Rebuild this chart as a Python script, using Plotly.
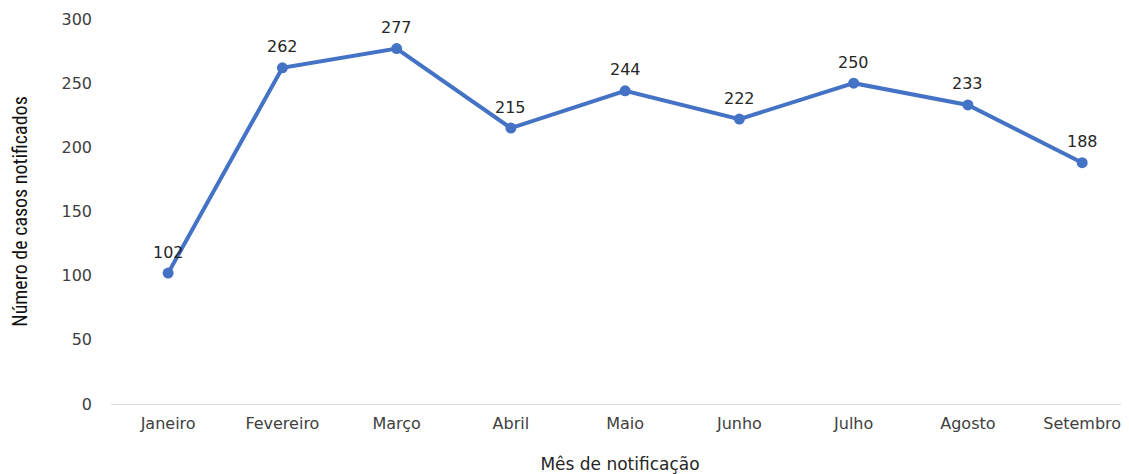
import plotly.graph_objects as go

months = ["Janeiro", "Fevereiro", "Março", "Abril", "Maio", "Junho", "Julho", "Agosto", "Setembro"]
cases = [102, 262, 277, 215, 244, 222, 250, 233, 188]
y_ticks = [0, 50, 100, 150, 200, 250, 300]

FONT = "DejaVu Sans, sans-serif"

fig = go.Figure()
fig.add_trace(go.Scatter(
    x=months, y=cases, mode="lines+markers",
    line=dict(color="#4472C4", width=4),
    marker=dict(color="#4472C4", size=11),
    cliponaxis=False, showlegend=False,
))
for m, v in zip(months, cases):
    fig.add_annotation(x=m, y=v, text=str(v), showarrow=False, yshift=21,
                       font=dict(family=FONT, size=16, color="#262626"))

fig.update_layout(
    width=1121, height=466,
    margin=dict(l=103, r=0, t=11, b=70),
    paper_bgcolor="white", plot_bgcolor="white",
    font=dict(family=FONT, color="#404040"),
    xaxis=dict(
        type="category", range=[-0.5, 8.41], automargin=False,
        showline=True, linecolor="#D9D9D9", linewidth=1,
        showgrid=False, ticks="", tickfont=dict(size=16, color="#404040"),
        ticklabelstandoff=5,
        title=dict(text="Mês de notificação", font=dict(size=17, color="#262626"), standoff=27),
    ),
    yaxis=dict(
        range=[0, 300], tickvals=y_ticks, showline=False, showgrid=False,
        automargin=False,
        zeroline=False, ticks="", tickfont=dict(size=16, color="#404040"),
        ticklabelstandoff=18,
        title=dict(text="Número de casos notificados",
                   font=dict(family="Liberation Sans Narrow, Roboto Condensed, sans-serif", size=20, color="#111111"),
                   standoff=30),
    ),
)

fig.write_html("out.html")
